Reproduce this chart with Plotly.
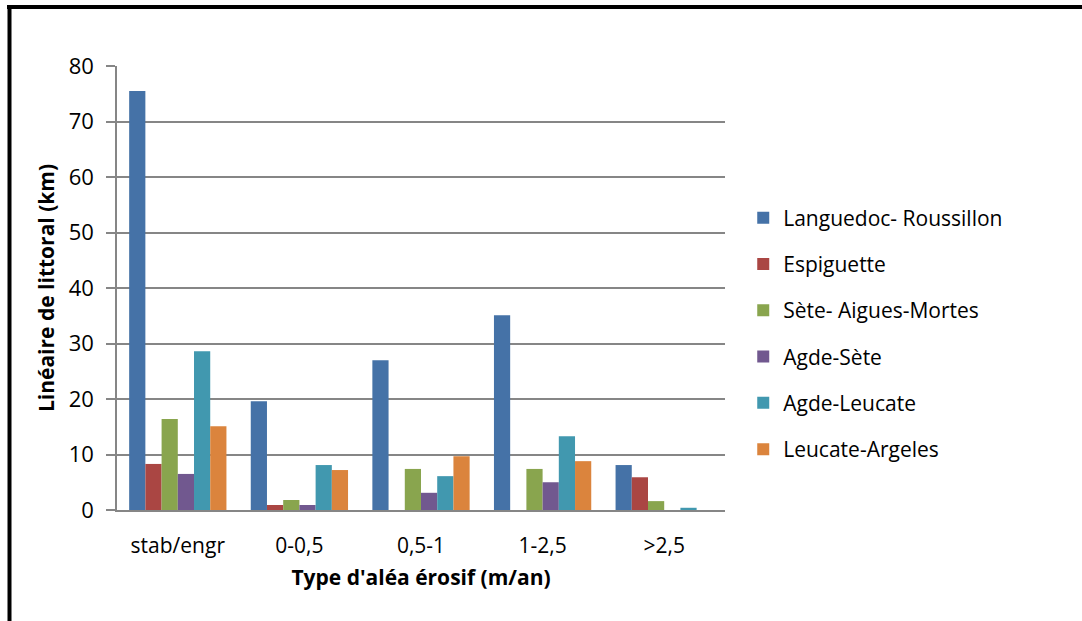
import plotly.graph_objects as go

categories = ["stab/engr", "0-0,5", "0,5-1", "1-2,5", ">2,5"]
languedoc_roussillon = [75.5, 19.6, 27.0, 35.1, 8.1]
espiguette = [8.3, 0.9, 0, 0, 5.9]
sete_aigues_mortes = [16.4, 1.8, 7.4, 7.4, 1.6]
agde_sete = [6.5, 0.9, 3.1, 5.0, 0]
agde_leucate = [28.6, 8.1, 6.1, 13.3, 0.4]
leucate_argeles = [15.1, 7.2, 9.7, 8.8, 0]

series_names = ["Languedoc- Roussillon", "Espiguette", "Sète- Aigues-Mortes",
                "Agde-Sète", "Agde-Leucate", "Leucate-Argeles"]
series_values = [languedoc_roussillon, espiguette, sete_aigues_mortes,
                 agde_sete, agde_leucate, leucate_argeles]
colors = ["#4572A7", "#AA4643", "#89A54E", "#71588F", "#4198AF", "#DB843D"]

FONT = "Open Sans"

fig = go.Figure()
for i, (name, vals, col) in enumerate(zip(series_names, series_values, colors)):
    fig.add_trace(go.Bar(x=categories, y=vals, name=name, marker_color=col,
                         marker_line_width=0, legendgroup=f"g{i}"))

W, H = 1082, 621
L, R, T, B = 117, 725, 66, 510

def px_x(p):
    return (p - L) / (R - L)

def px_y(p):
    return (B - p) / (B - T)

fig.update_layout(
    width=W, height=H,
    margin=dict(l=L, r=W - R, t=T, b=H - B, pad=0),
    paper_bgcolor="white", plot_bgcolor="white",
    barmode="group", bargap=0.2, bargroupgap=0,
    font=dict(family=FONT, size=21, color="#000000"),
    legend=dict(x=1.03, y=px_y(333.5), xanchor="left", yanchor="middle",
                font=dict(family=FONT, size=21, color="#000000"),
                tracegroupgap=16, traceorder="grouped",
                itemclick=False, bgcolor="rgba(0,0,0,0)"),
    showlegend=True,
)
fig.update_xaxes(
    showgrid=False, showline=True, linecolor="#868686", linewidth=1.5,
    ticks="", ticklabelstandoff=16,
    tickfont=dict(family=FONT, size=21, color="#000000"),
    title=dict(text="<b>Type d'aléa érosif (m/an)</b>",
               font=dict(family=FONT, size=21, color="#000000"), standoff=12),
)
fig.update_yaxes(
    range=[0, 80], dtick=10, tick0=0,
    showgrid=True, gridcolor="#868686", gridwidth=1.5,
    showline=True, linecolor="#868686", linewidth=1.5,
    ticks="outside", ticklen=9, tickcolor="#868686", tickwidth=1.5,
    ticklabelstandoff=8,
    tickfont=dict(family=FONT, size=22, color="#000000"),
    zeroline=False,
    title=dict(text="<b>Linéaire de littoral (km)</b>",
               font=dict(family=FONT, size=21, color="#000000"), standoff=8),
)

# outer black frame (top and left edges only)
fig.add_shape(type="line", xref="paper", yref="paper",
              x0=px_x(7), x1=px_x(1082), y0=px_y(7), y1=px_y(7),
              line=dict(color="black", width=4))
fig.add_shape(type="line", xref="paper", yref="paper",
              x0=px_x(9.5), x1=px_x(9.5), y0=px_y(5), y1=px_y(621),
              line=dict(color="black", width=4))

fig.write_html("out.html")
